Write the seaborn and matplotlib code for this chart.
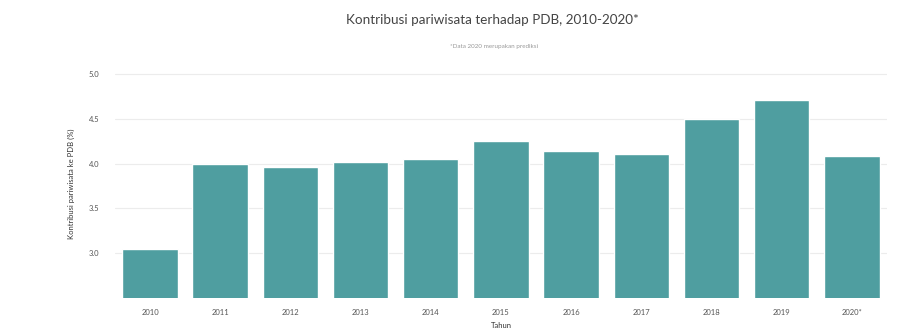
import matplotlib
matplotlib.use("Agg")
import matplotlib.pyplot as plt
import seaborn as sns
import pandas as pd

years = ["2010", "2011", "2012", "2013", "2014", "2015", "2016", "2017", "2018", "2019", "2020*"]
values = [3.05, 4.00, 3.96, 4.02, 4.05, 4.25, 4.14, 4.11, 4.50, 4.71, 4.09]
yticks = [3.0, 3.5, 4.0, 4.5, 5.0]

sns.set_theme(style="white")
plt.rcParams['font.family'] = ['Lato', 'DejaVu Sans']

df = pd.DataFrame({"Tahun": years, "Kontribusi": values})

fig = plt.figure(figsize=(9.05, 3.33), dpi=100)
ax = fig.add_axes([0.127, 0.105, 0.853, 0.686])
sns.barplot(data=df, x="Tahun", y="Kontribusi", color="#4f9ea0", saturation=1,
            width=0.79, ax=ax, zorder=3)
ax.set_ylim(2.5, 5.05)
ax.set_xlim(-0.5, len(years) - 0.5)
ax.set_yticks(yticks)
ax.set_yticklabels([f"{t:.1f}" for t in yticks])
ax.yaxis.grid(True, color="#ececec", linewidth=0.8, zorder=0)
ax.xaxis.grid(False)
for s in ax.spines.values():
    s.set_visible(False)
ax.tick_params(axis="both", length=0, labelsize=5.5, labelcolor="#555555")
ax.tick_params(axis="x", pad=8)
ax.tick_params(axis="y", pad=11)
ax.set_xlabel("Tahun", fontsize=5.5, color="#333333", labelpad=4)
ax.set_ylabel("Kontribusi pariwisata ke PDB (%)", fontsize=5.5, color="#333333", labelpad=10)

fig.text(0.544, 0.94, "Kontribusi pariwisata terhadap PDB, 2010-2020*", ha="center",
         va="center", fontsize=9.7, color="#444444")
fig.text(0.546, 0.86, "*Data 2020 merupakan prediksi", ha="center", va="center",
         fontsize=4.5, color="#999999")

fig.savefig("out.png", dpi=100, facecolor="white")
